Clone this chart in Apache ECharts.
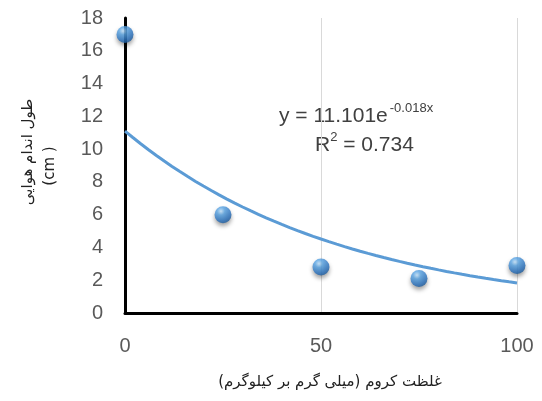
<!DOCTYPE html>
<html>
<head>
<meta charset="utf-8">
<script src="https://cdn.jsdelivr.net/npm/echarts@6/dist/echarts.min.js"></script>
<style>
html,body{margin:0;padding:0;background:#fff;}
#chart{width:542px;height:401px;}
</style>
</head>
<body>
<div id="chart"></div>
<script>
// Chromium concentration (mg/kg) and shoot length (cm)
const concentrations = [0, 25, 50, 75, 100];
const shootLength = [17.0, 6.0, 2.8, 2.1, 2.9];

// Exponential trendline y = a * e^(b x), coefficients as printed on the chart
const trendA = 11.101;
const trendB = -0.018;
const rSquared = 0.734;

const xTicks = [0, 50, 100];
const yMax = 18;

const xTitle = 'غلظت کروم (میلی گرم بر کیلوگرم)';
const yTitle = 'طول اندام هوایی';
const yUnit = '(cm )';

const trendData = [];
for (let x = 0; x <= 100; x += 2) {
  trendData.push([x, trendA * Math.exp(trendB * x)]);
}

const chart = echarts.init(document.getElementById('chart'));
const labelFont = 'Liberation Sans, Arial, sans-serif';
const faFont = 'DejaVu Sans, sans-serif';

chart.setOption({
  animation: false,
  backgroundColor: '#ffffff',
  grid: { left: 125, right: 25, top: 18, bottom: 88, containLabel: false },
  xAxis: {
    type: 'value',
    min: xTicks[0],
    max: xTicks[xTicks.length - 1],
    interval: 50,
    axisLine: { show: true, onZero: false, lineStyle: { color: '#000000', width: 3 } },
    axisTick: { show: false },
    axisLabel: { margin: 23, fontFamily: labelFont, fontSize: 20, color: '#595959' },
    splitLine: { show: true, lineStyle: { color: '#d9d9d9', width: 1 } }
  },
  yAxis: {
    type: 'value',
    min: 0,
    max: yMax,
    interval: 2,
    axisLine: { show: true, onZero: false, lineStyle: { color: '#000000', width: 3 } },
    axisTick: { show: false },
    axisLabel: { margin: 22, fontFamily: labelFont, fontSize: 20, color: '#595959' },
    splitLine: { show: false }
  },
  series: [
    {
      type: 'line',
      data: trendData,
      showSymbol: false,
      smooth: false,
      lineStyle: { color: '#5b9bd5', width: 3 },
      z: 2,
      silent: true
    },
    {
      type: 'scatter',
      data: concentrations.map((x, i) => [x, shootLength[i]]),
      symbol: 'circle',
      symbolSize: 17,
      clip: false,
      z: 5,
      itemStyle: {
        color: {
          type: 'radial', x: 0.38, y: 0.3, r: 0.75,
          colorStops: [
            { offset: 0, color: '#c6e6ff' },
            { offset: 0.3, color: '#5aa6e6' },
            { offset: 0.75, color: '#2a72bf' },
            { offset: 1, color: '#1a5796' }
          ]
        },
        shadowColor: 'rgba(0,0,0,0.45)',
        shadowBlur: 4,
        shadowOffsetY: 3
      }
    }
  ],
  graphic: [
    // axis titles
    {
      type: 'text',
      x: 330, y: 382,
      style: { text: xTitle, fontFamily: faFont, fontSize: 15, fill: '#222222', align: 'center', verticalAlign: 'middle' }
    },
    {
      type: 'text',
      x: 28, y: 152, rotation: Math.PI / 2,
      style: { text: yTitle, fontFamily: faFont, fontSize: 15, fill: '#222222', align: 'center', verticalAlign: 'middle' }
    },
    {
      type: 'text',
      x: 50, y: 166, rotation: Math.PI / 2,
      style: { text: yUnit, fontFamily: faFont, fontSize: 15, fill: '#222222', align: 'center', verticalAlign: 'middle' }
    },
    // trendline equation
    {
      type: 'text',
      left: 279,
      top: 102,
      style: {
        text: '{n|y = ' + trendA.toFixed(3) + 'e}{s|' + trendB.toFixed(3) + 'x}',
        rich: {
          n: { fontFamily: labelFont, fontSize: 21, fill: '#404040', lineHeight: 28 },
          s: { fontFamily: labelFont, fontSize: 13, fill: '#404040', verticalAlign: 'top', lineHeight: 28, padding: [0, 0, 12, 2] }
        }
      }
    },
    {
      type: 'text',
      left: 315,
      top: 131,
      style: {
        text: '{n|R}{s|2}{n| = ' + rSquared.toFixed(3) + '}',
        rich: {
          n: { fontFamily: labelFont, fontSize: 21, fill: '#404040', lineHeight: 28 },
          s: { fontFamily: labelFont, fontSize: 13, fill: '#404040', verticalAlign: 'top', lineHeight: 28, padding: [0, 0, 12, 0] }
        }
      }
    }
  ]
});
</script>
</body>
</html>
